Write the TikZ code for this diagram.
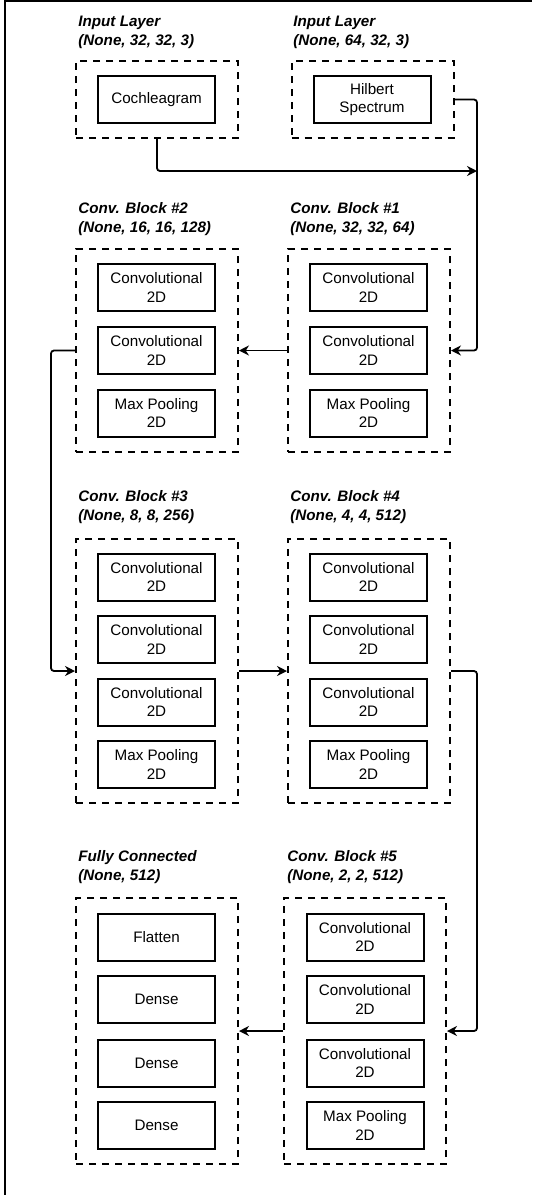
\documentclass[tikz,border=0pt]{standalone}
\usepackage{fontspec}
\setmainfont{Liberation Sans}
\usetikzlibrary{arrows.meta}

\tikzset{
  layer/.style={draw, line width=1pt, minimum width=58.5pt, minimum height=23.5pt,
    inner sep=0pt, align=center, font=\fontsize{7.6}{9.2}\selectfont},
  block/.style={draw, line width=1pt, dash pattern=on 3.5pt off 3pt, minimum width=81pt},
  title/.style={anchor=west, align=left, inner sep=0pt,
    font=\fontsize{7.6}{9.5}\selectfont\bfseries\itshape},
  arr/.style={line width=0.9pt, rounded corners=1.5pt, -{Stealth[length=5pt,width=5pt]}}
}

\begin{document}
\begin{tikzpicture}[x=0.5pt,y=-0.5pt]
	\useasboundingbox (0,0) rectangle (532,1195);
	% 外框（上边和左边）
	\draw[line width=1pt] (5,1195) -- (5,1) -- (532,1);

	% 输入层
	\node[title] (t_in1) at (78,32) {Input Layer\\(None, 32, 32, 3)};
	\node[title] (t_in2) at (293,32) {Input Layer\\(None, 64, 32, 3)};
	\node[block, minimum height=38.5pt] (in1) at (157,99.5) {};
	\node[block, minimum height=38.5pt] (in2) at (372.5,99.5) {};
	\node[layer] (coch) at (156.5,99.5) {Cochleagram};
	\node[layer] (hilb) at (372,99.5) {Hilbert\\Spectrum};

	% 卷积块 #2 和 #1
	\node[title] (t_cb2) at (78,219.5) {Conv. Block \#2\\(None, 16, 16, 128)};
	\node[title] (t_cb1) at (290,219.5) {Conv. Block \#1\\(None, 32, 32, 64)};
	\node[block, minimum height=101.5pt] (cb2) at (157,350.5) {};
	\node[block, minimum height=101.5pt] (cb1) at (369,350.5) {};
	\node[layer] (cb2a) at (156.5,287.5) {Convolutional\\2D};
	\node[layer] (cb2b) at (156.5,350.5) {Convolutional\\2D};
	\node[layer] (cb2c) at (156.5,413) {Max Pooling\\2D};
	\node[layer] (cb1a) at (368.5,287.5) {Convolutional\\2D};
	\node[layer] (cb1b) at (368.5,350.5) {Convolutional\\2D};
	\node[layer] (cb1c) at (368.5,413) {Max Pooling\\2D};

	% 卷积块 #3 和 #4
	\node[title] (t_cb3) at (78,507.5) {Conv. Block \#3\\(None, 8, 8, 256)};
	\node[title] (t_cb4) at (290,507.5) {Conv. Block \#4\\(None, 4, 4, 512)};
	\node[block, minimum height=132pt] (cb3) at (157,671) {};
	\node[block, minimum height=132pt] (cb4) at (369,671) {};
	\node[layer] (cb3a) at (156.5,577) {Convolutional\\2D};
	\node[layer] (cb3b) at (156.5,639.5) {Convolutional\\2D};
	\node[layer] (cb3c) at (156.5,702) {Convolutional\\2D};
	\node[layer] (cb3d) at (156.5,764.5) {Max Pooling\\2D};
	\node[layer] (cb4a) at (368.5,577) {Convolutional\\2D};
	\node[layer] (cb4b) at (368.5,639.5) {Convolutional\\2D};
	\node[layer] (cb4c) at (368.5,702) {Convolutional\\2D};
	\node[layer] (cb4d) at (368.5,764.5) {Max Pooling\\2D};

	% 全连接层和卷积块 #5
	\node[title] (t_fc) at (78,867) {Fully Connected\\(None, 512)};
	\node[title] (t_cb5) at (287,867) {Conv. Block \#5\\(None, 2, 2, 512)};
	\node[block, minimum height=133pt] (fc) at (157,1031) {};
	\node[block, minimum height=133pt] (cb5) at (365,1031) {};
	\node[layer] (fca) at (156.5,937) {Flatten};
	\node[layer] (fcb) at (156.5,999.5) {Dense};
	\node[layer] (fcc) at (156.5,1063) {Dense};
	\node[layer] (fcd) at (156.5,1125.5) {Dense};
	\node[layer] (cb5a) at (365,937) {Convolutional\\2D};
	\node[layer] (cb5b) at (365,999.5) {Convolutional\\2D};
	\node[layer] (cb5c) at (365,1063) {Convolutional\\2D};
	\node[layer] (cb5d) at (365,1125.5) {Max Pooling\\2D};

	% 连接线
	\coordinate (join) at (477,171);
	\coordinate (bus1) at (477,350.5);
	\draw[arr] (in1.south) |- (join);
	\draw[arr] (in2.east) -| (bus1) -- (cb1.east);
	\draw[arr] (cb1.west) -- (cb2.east);
	\draw[arr] (cb2.west) -- ++(-24,0) |- (cb3.west);
	\draw[arr] (cb3.east) -- (cb4.west);
	\draw[arr] (cb4.east) -- ++(26,0) |- (cb5.east);
	\draw[arr] (cb5.west) -- (fc.east);
\end{tikzpicture}
\end{document}
